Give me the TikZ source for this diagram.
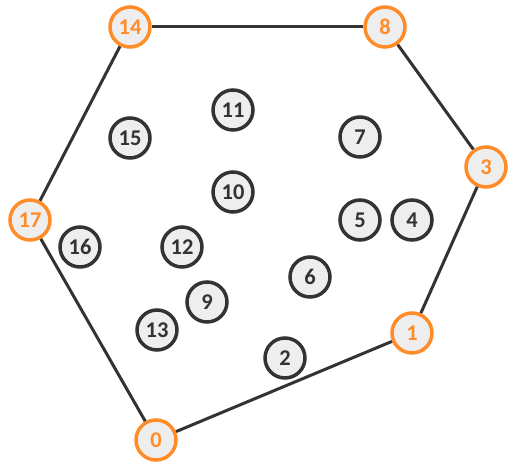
\documentclass[tikz,border=0pt]{standalone}
\usepackage{fontspec}
\setmainfont{Carlito}
\definecolor{hullor}{HTML}{FF8C28}
\definecolor{dk}{HTML}{333333}
\definecolor{nfill}{HTML}{EEEEEE}
\newcommand{\lblfont}{\fontsize{22.5pt}{22.5pt}\selectfont\bfseries}
\tikzset{
  pt/.style={circle, draw=dk, line width=3.5pt, fill=nfill, minimum size=40pt, inner sep=0pt,
    font=\lblfont, text=dk},
  hull/.style={pt, draw=hullor, text=hullor},
  edge/.style={draw=dk, line width=3pt}
}
\begin{document}
\begin{tikzpicture}[x=1pt,y=-1pt]
\useasboundingbox (0,0) rectangle (508,470);
\node[hull] (n14) at (130,27) {14};
\node[hull] (n8) at (385,27) {8};
\node[hull] (n3) at (486,167) {3};
\node[hull] (n1) at (412,333) {1};
\node[hull] (n0) at (156,440) {0};
\node[hull] (n17) at (30,220) {17};
\node[pt] (n11) at (233,110) {11};
\node[pt] (n15) at (130,138) {15};
\node[pt] (n7) at (360,137) {7};
\node[pt] (n10) at (233,192) {10};
\node[pt] (n5) at (360,220) {5};
\node[pt] (n4) at (412,220) {4};
\node[pt] (n16) at (80,247) {16};
\node[pt] (n12) at (182,247) {12};
\node[pt] (n6) at (310,277) {6};
\node[pt] (n9) at (207,302) {9};
\node[pt] (n13) at (157,330) {13};
\node[pt] (n2) at (285,358) {2};
\draw[edge] (n14) -- (n8);
\draw[edge] (n8) -- (n3);
\draw[edge] (n3) -- (n1);
\draw[edge] (n1) -- (n0);
\draw[edge] (n0) -- (n17);
\draw[edge] (n17) -- (n14);
\end{tikzpicture}
\end{document}
